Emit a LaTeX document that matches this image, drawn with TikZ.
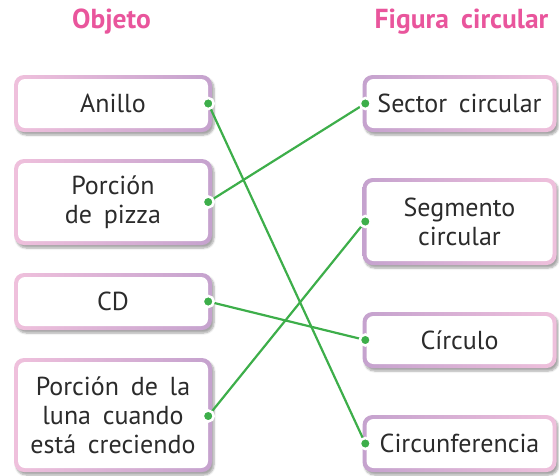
\documentclass[tikz,border=0pt]{standalone}
\usepackage{fontspec}
\setmainfont{PT Sans}
\usetikzlibrary{shadows.blur}
\definecolor{pinkb}{HTML}{EFC0DC}
\definecolor{purpb}{HTML}{C5A2CE}
\definecolor{titlec}{HTML}{E9559C}
\definecolor{greenc}{HTML}{3DAE4A}
\definecolor{textc}{HTML}{2B2B2B}
\newcommand{\gap}{\hspace{0.45em}}
\tikzset{
  box/.style={rounded corners=10pt, inner sep=0pt, text width=190pt, align=center,
    font=\fontsize{26}{29}\selectfont, text=textc,
    blur shadow={shadow xshift=2pt, shadow yshift=-3pt, shadow opacity=35, shadow blur steps=6},
    path picture={\fill[white, rounded corners=7pt]
      ([xshift=4pt,yshift=-4pt]path picture bounding box.north west) rectangle
      ([xshift=-4pt,yshift=4pt]path picture bounding box.south east);}},
  lbox/.style={box, minimum width=198pt, left color=pinkb, right color=purpb},
  rbox/.style={box, minimum width=194pt, left color=purpb, right color=pinkb},
  title/.style={font=\fontsize{27.5}{30}\selectfont\bfseries, text=titlec},
  link/.style={draw=greenc, line width=2.2pt},
  dotc/.style={fill=greenc, draw=white, line width=2.5pt},
}
\begin{document}
\begin{tikzpicture}[x=1pt,y=-1pt]
\useasboundingbox (0,0) rectangle (559,475);
\node[title] (t1) at (111.5,22) {Objeto};
\node[title] (t2) at (461.5,22) {Figura\gap circular};

\node[lbox, minimum height=57pt] (anillo) at (113,103.5) {Anillo};
\node[lbox, minimum height=86pt] (pizza) at (113,202) {Porción\\de\gap pizza};
\node[lbox, minimum height=57pt] (cd) at (113,301.5) {CD};
\node[lbox, minimum height=114pt] (luna) at (113,415) {Porción\gap de\gap la\\luna\gap cuando\\está\gap creciendo};

\node[rbox, minimum height=57pt] (sector) at (459.5,103.5) {Sector\gap circular};
\node[rbox, minimum height=87pt] (segmento) at (459.5,221.5) {Segmento\\circular};
\node[rbox, minimum height=56pt] (circulo) at (459.5,340) {Círculo};
\node[rbox, minimum height=57pt] (circunf) at (459.5,443.5) {Circunferencia};

\coordinate (pa) at ([xshift=-4pt]anillo.east);
\coordinate (pp) at ([xshift=-4pt]pizza.east);
\coordinate (pc) at ([xshift=-4pt]cd.east);
\coordinate (pl) at ([xshift=-4pt,yshift=-1pt]luna.east);
\coordinate (qs) at ([xshift=3pt]sector.west);
\coordinate (qg) at ([xshift=3pt]segmento.west);
\coordinate (qc) at ([xshift=3pt]circulo.west);
\coordinate (qf) at ([xshift=3pt]circunf.west);

\draw[link] (pa) -- (qf);
\draw[link] (pp) -- (qs);
\draw[link] (pc) -- (qc);
\draw[link] (pl) -- (qg);
\foreach \p in {pa,pp,pc,pl,qs,qg,qc,qf}
  \path[dotc] (\p) circle (5.5pt);
\end{tikzpicture}
\end{document}
